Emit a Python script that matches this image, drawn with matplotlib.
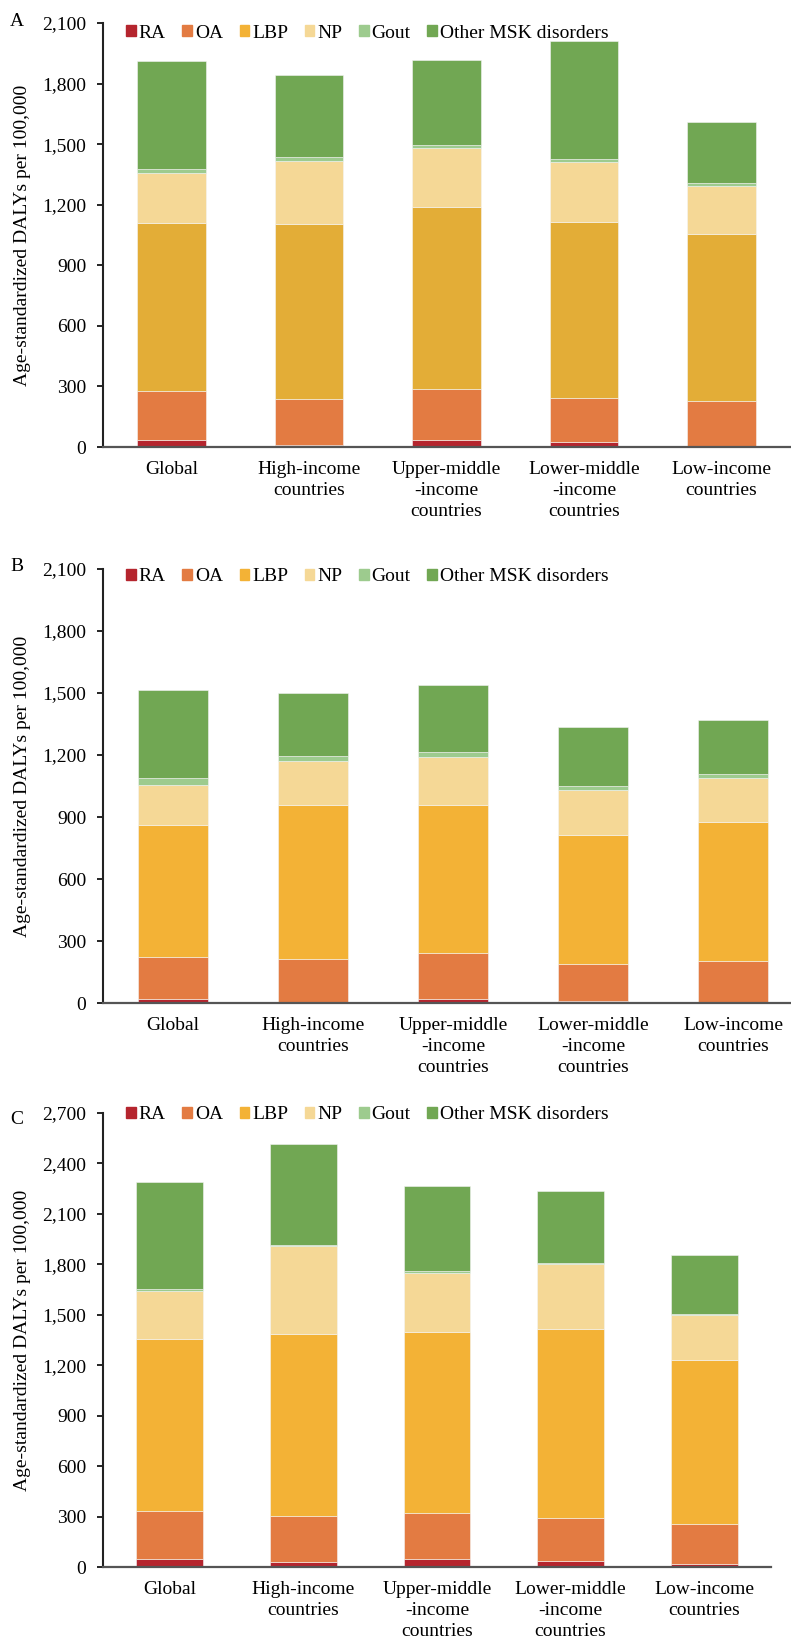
import matplotlib
matplotlib.use('Agg')
import matplotlib.pyplot as plt
import numpy as np
from matplotlib.ticker import FuncFormatter

plt.rcParams['font.family'] = ['Liberation Serif', 'DejaVu Serif']

groups = ['Global', 'High-income\ncountries', 'Upper-middle\n-income\ncountries',
          'Lower-middle\n-income\ncountries', 'Low-income\ncountries']
causes = ['RA', 'OA', 'LBP', 'NP', 'Gout', 'Other MSK disorders']
colors = ['#B5252E', '#E37B42', '#F3B236', '#F5D896', '#9DCB8E', '#71A753']

# panel A
a_ra = [33, 10, 33, 25, 5]
a_oa = [245, 230, 255, 220, 225]
a_lbp = [833, 865, 901, 871, 823]
a_np = [245, 312, 291, 298, 240]
a_gout = [21, 21, 16, 13, 17]
a_other = [533, 402, 420, 584, 302]

# panel B
b_ra = [18, 6, 19, 11, 3]
b_oa = [205, 208, 224, 178, 201]
b_lbp = [636, 745, 713, 626, 674]
b_np = [197, 211, 232, 216, 211]
b_gout = [34, 27, 25, 21, 21]
b_other = [426, 304, 325, 284, 259]

# panel C
c_ra = [50, 32, 48, 38, 15]
c_oa = [284, 271, 276, 256, 243]
c_lbp = [1021, 1082, 1075, 1120, 973]
c_np = [286, 523, 351, 387, 269]
c_gout = [13, 8, 11, 8, 5]
c_other = [634, 601, 506, 427, 350]

W, H = 791, 1642
fig = plt.figure(figsize=(W / 100, H / 100), dpi=100)


def panel(letter, series, left, top, bottom, right, ymax, leg_y, letter_y, lbp_color):
    ax = fig.add_axes([left / W, 1 - bottom / H, (right - left) / W, (bottom - top) / H])
    x = np.arange(len(groups))
    base = np.zeros(len(groups))
    cols = list(colors)
    cols[2] = lbp_color
    for vals, c in zip(series, cols):
        ax.bar(x, vals, 0.5, bottom=base, color=c, edgecolor='#f4f4f4', linewidth=0.4)
        base += np.array(vals)
    # legend proxies with standard colours
    handles = [plt.Rectangle((0, 0), 1, 1, color=c) for c in colors]
    ax.legend(handles, causes, ncol=6, loc='center left',
              bbox_to_anchor=((126 - left) / (right - left), leg_y),
              frameon=False, fontsize=14, handlelength=0.5, handleheight=0.5,
              handletextpad=0.15, columnspacing=0.85, borderpad=0, borderaxespad=0)
    ax.set_xlim(-0.5, len(groups) - 0.5)
    ax.set_ylim(0, ymax)
    ax.set_yticks(np.arange(0, ymax + 1, 300))
    ax.yaxis.set_major_formatter(FuncFormatter(lambda v, p: f'{int(v):,}'))
    ax.set_xticks(x)
    ax.set_xticklabels(groups, fontsize=14, linespacing=1.3)
    ax.tick_params(axis='x', length=0, pad=10)
    ax.tick_params(axis='y', labelsize=14, length=4, width=1.2, direction='out', pad=8)
    for s in ['top', 'right']:
        ax.spines[s].set_visible(False)
    ax.spines['left'].set_linewidth(1.5)
    ax.spines['left'].set_color('#222222')
    ax.spines['bottom'].set_linewidth(1.6)
    ax.spines['bottom'].set_color('#555555')
    fig.text(23 / W, 1 - (top + bottom) / 2 / H, 'Age-standardized DALYs per 100,000',
             rotation=90, ha='center', va='center', fontsize=14)
    fig.text(10 / W, 1 - letter_y / H, letter, ha='left', va='center', fontsize=14)
    return ax


panel('A', [a_ra, a_oa, a_lbp, a_np, a_gout, a_other], 103, 23, 447, 790, 2100,
      0.976, 22, '#E3AD37')
panel('B', [b_ra, b_oa, b_lbp, b_np, b_gout, b_other], 103, 569, 1003, 803, 2100,
      0.982, 566, '#F3B236')
panel('C', [c_ra, c_oa, c_lbp, c_np, c_gout, c_other], 103, 1113, 1567, 771, 2700,
      0.996, 1120, '#F3B236')

fig.savefig('out.png', dpi=100)
